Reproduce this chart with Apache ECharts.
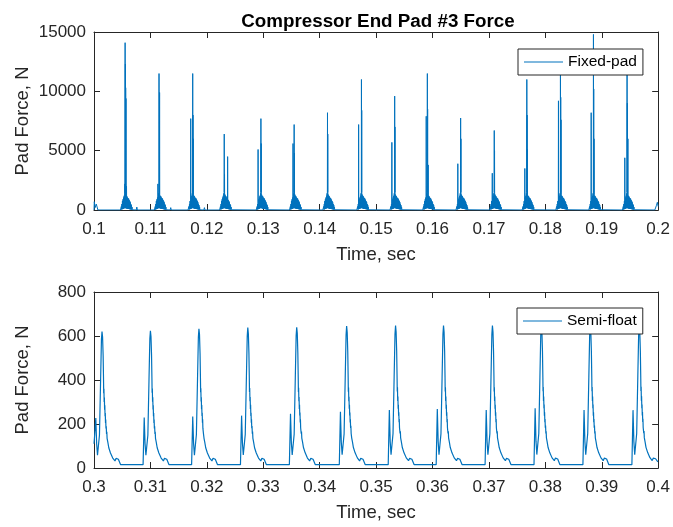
<!DOCTYPE html>
<html>
<head>
<meta charset="utf-8">
<script src="https://cdn.jsdelivr.net/npm/echarts@6/dist/echarts.min.js"></script>
<style>html,body{margin:0;padding:0;background:#fff;}#c{width:673px;height:527px;}</style>
</head>
<body>
<div id="c"></div>
<script>
// ---------------- DATA ----------------
const titleText = 'Compressor End Pad #3 Force';
const xName = 'Time, sec';
const yName = 'Pad Force, N';
const fixedName = 'Fixed-pad';
const semiName = 'Semi-float';

// axis ranges [min, max, tick step]
const fixedXRange = [0.1, 0.2, 0.01];
const fixedYRange = [0, 15000, 5000];
const semiXRange = [0.3, 0.4, 0.01];
const semiYRange = [0, 800, 200];

// Fixed-pad: time of each impact cluster
const fixedPeakTimes = [0.10549, 0.11150, 0.11747, 0.12306, 0.12956, 0.13545, 0.14136, 0.14738,
                        0.15327, 0.15906, 0.16496, 0.17092, 0.17669, 0.18265, 0.18850, 0.19446];
// dense low-level ringing seen under every impact (offset from impact time, force)
const fixedBaseOffsets = [-0.0008, -0.00075, -0.0007, -0.00065, -0.0006, -0.00055, -0.0005, -0.00045, -0.0004,
  -0.00035, -0.0003, -0.00025, -0.0002, -0.00015, -0.0001, -0.00005, 0, 0.00005, 0.0001, 0.00015, 0.0002,
  0.00025, 0.0003, 0.00035, 0.0004, 0.00045, 0.0005, 0.00055, 0.0006, 0.00065, 0.0007, 0.00075, 0.0008,
  0.00085, 0.0009, 0.00095, 0.001, 0.00105, 0.0011, 0.00115, 0.0012, 0.00125, 0.0013, 0.00135, 0.0014];
const fixedBaseForce = [0, 150, 20, 300, 40, 500, 60, 750, 80, 900, 100, 1050, 120, 1200, 150, 1400, 200,
  1500, 150, 1300, 150, 1200, 120, 1150, 100, 1050, 100, 1000, 90, 950, 80, 850, 70, 750, 60, 650, 50,
  500, 40, 400, 30, 250, 20, 120, 0];
// the tall spikes of each cluster: [offset from impact time, force]
const fixedSpikes = [
  [[-0.000025, 2200], [0.000025, 14100], [0.000075, 12300], [0.000125, 10300], [0.000175, 9400], [0.000275, 2000], [0.002, 0], [0.0021, 250], [0.0022, 0]],
  [[-0.000175, 2200], [0.000025, 11500], [0.000125, 9900], [0.002, 0], [0.0021, 200], [0.0022, 0]],
  [[-0.000325, 7700], [0.000025, 11500], [0.000075, 8000], [0.000125, 6000], [0.002, 0], [0.0021, 200], [0.0022, 0]],
  [[0.000025, 6400], [0.000075, 3000], [0.000625, 4500]],
  [[-0.000475, 5100], [0.000025, 7700], [0.000075, 5600]],
  [[-0.000175, 5600], [0.000025, 7200], [0.000075, 4800]],
  [[0.000025, 8200], [0.000075, 6400]],
  [[-0.000475, 7200], [0.000025, 11000], [0.000075, 8400]],
  [[-0.000475, 5700], [0.000025, 9600], [0.000075, 7000]],
  [[-0.000175, 7900], [0.000025, 11500], [0.000075, 8500], [0.000175, 3800]],
  [[-0.000475, 3900], [0.000025, 7750], [0.000075, 6000]],
  [[-0.000325, 3100], [0.000025, 6700], [0.000075, 5000]],
  [[-0.000325, 3500], [0.000025, 11000], [0.000075, 8000], [0.000125, 5100]],
  [[-0.000325, 9200], [0.000025, 12600], [0.000075, 9500], [0.000125, 7600]],
  [[-0.000375, 8200], [0.000025, 14800], [0.000075, 10200], [0.000125, 6000]],
  [[-0.000375, 4400], [0.000025, 12200], [0.000075, 9000], [0.000175, 6000]]
];
const fixedStart = [[0.1, 0], [0.10005, 700], [0.1002, 200], [0.1004, 500], [0.1007, 0]];
const fixedEnd = [[0.1994, 0], [0.1997, 400], [0.19985, 650], [0.2, 300]];

// Semi-float: time of each pulse peak and force samples around each
const semiPeakTimes = [0.30142, 0.31000, 0.31860, 0.32726, 0.33593, 0.34478,
                       0.35345, 0.36195, 0.37062, 0.37929, 0.38796, 0.39664];
const semiOffsets = [-0.0013, -0.0011, -0.00095, -0.0008, -0.00065, -0.00045, -0.00025, -0.0001,
  0, 0.0001, 0.0002, 0.00027, 0.0003, 0.00034, 0.00038, 0.00042, 0.00046, 0.0005, 0.00054, 0.00058,
  0.00062, 0.00066, 0.0007, 0.00075, 0.0008, 0.00085, 0.0009, 0.00096, 0.00103, 0.0011, 0.0012,
  0.0015, 0.0019, 0.0023, 0.0025, 0.0027, 0.0029, 0.0033];
const semiCycles = [
  [150, 227, 110, 58, 52, 150, 400, 585, 620, 595, 510, 400, 340, 360, 300, 320, 265, 285, 235, 250, 205, 220, 180, 190, 155, 165, 135, 142, 118, 110, 92, 68, 45, 32, 44, 36, 40, 15],
  [15, 229, 110, 58, 52, 150, 402, 588, 624, 598, 512, 402, 342, 361, 301, 321, 266, 285, 235, 250, 205, 220, 180, 190, 155, 165, 135, 142, 118, 110, 92, 68, 45, 32, 44, 36, 40, 15],
  [15, 234, 112, 58, 52, 152, 405, 595, 633, 606, 518, 405, 344, 363, 302, 322, 267, 286, 236, 251, 206, 221, 181, 190, 156, 165, 135, 142, 118, 110, 92, 68, 45, 32, 44, 36, 40, 15],
  [15, 238, 114, 59, 52, 153, 408, 600, 638, 610, 521, 407, 345, 364, 303, 323, 268, 287, 236, 251, 206, 221, 181, 191, 156, 166, 136, 143, 118, 111, 92, 68, 45, 32, 44, 36, 40, 15],
  [15, 247, 116, 59, 53, 154, 410, 602, 640, 612, 523, 408, 346, 365, 303, 323, 268, 287, 237, 252, 207, 222, 182, 191, 156, 166, 136, 143, 119, 111, 93, 69, 45, 32, 44, 36, 40, 15],
  [15, 256, 118, 60, 53, 155, 412, 606, 645, 616, 526, 410, 347, 366, 304, 324, 269, 288, 237, 252, 207, 222, 182, 192, 157, 166, 136, 143, 119, 111, 93, 69, 46, 32, 44, 36, 40, 15],
  [15, 264, 120, 60, 54, 156, 414, 608, 647, 618, 528, 411, 348, 367, 305, 325, 269, 288, 238, 253, 208, 223, 183, 192, 157, 167, 137, 144, 119, 112, 93, 69, 46, 33, 44, 37, 40, 15],
  [15, 268, 121, 60, 54, 156, 414, 608, 647, 618, 528, 411, 348, 367, 305, 325, 269, 288, 238, 253, 208, 223, 183, 192, 157, 167, 137, 144, 119, 112, 93, 69, 46, 33, 44, 37, 40, 15],
  [15, 264, 120, 60, 54, 156, 414, 608, 647, 618, 528, 411, 348, 367, 305, 325, 269, 288, 238, 253, 208, 223, 183, 192, 157, 167, 137, 144, 119, 112, 93, 69, 46, 33, 44, 37, 40, 15],
  [15, 271, 122, 61, 54, 157, 415, 609, 648, 619, 529, 412, 349, 368, 305, 325, 270, 289, 238, 253, 208, 223, 183, 193, 157, 167, 137, 144, 119, 112, 93, 69, 46, 33, 45, 37, 41, 15],
  [15, 264, 120, 60, 54, 157, 415, 609, 648, 619, 529, 412, 349, 368, 305, 325, 270, 289, 238, 253, 208, 223, 183, 193, 157, 167, 137, 144, 119, 112, 93, 69, 46, 33, 45, 37, 41, 15],
  [15, 263, 120, 60, 54, 157, 416, 610, 649, 620, 530, 413, 350, 369, 306, 326, 270, 289, 239, 254, 209, 224, 184, 193, 158, 168, 138, 145, 120, 113, 94, 70, 47, 34, 45, 38, 42, 28]
];
const semiStart = [[0.3, 110]];

// ---------------- BUILD ----------------
const fixedData = fixedStart.slice();
fixedPeakTimes.forEach((t, i) => {
  const pts = fixedBaseOffsets.map((o, j) => [o, fixedBaseForce[j]]).concat(fixedSpikes[i]);
  pts.sort((a, b) => a[0] - b[0]);
  pts.forEach(p => fixedData.push([+(t + p[0]).toFixed(7), p[1]]));
});
fixedEnd.forEach(p => fixedData.push(p));

const semiData = semiStart.slice();
semiPeakTimes.forEach((t, i) => {
  semiOffsets.forEach((o, j) => semiData.push([+(t + o).toFixed(7), semiCycles[i][j]]));
});

const AX = '#262626';
const FONT = 'Liberation Sans, Arial, Helvetica, sans-serif';
const LINE = '#0072BD';

function xAx(grid, r, main) {
  return {
    type: 'value', gridIndex: grid, min: r[0], max: r[1], interval: r[2],
    position: main ? 'bottom' : 'top',
    name: main ? xName : '', nameLocation: 'middle', nameGap: 35, nameMoveOverlap: false,
    nameTextStyle: { color: AX, fontSize: 18.5, fontFamily: FONT },
    axisLine: { show: true, onZero: false, lineStyle: { color: AX, width: 1 } },
    axisTick: { show: true, inside: true, length: 6, lineStyle: { color: AX } },
    axisLabel: { show: main, color: AX, fontSize: 17, fontFamily: FONT, margin: 11,
                 showMinLabel: true, showMaxLabel: true,
                 formatter: v => String(+v.toFixed(2)) },
    splitLine: { show: false }
  };
}
function yAx(grid, r, main) {
  return {
    type: 'value', gridIndex: grid, min: r[0], max: r[1], interval: r[2],
    position: main ? 'left' : 'right',
    name: main ? yName : '', nameLocation: 'middle', nameGap: 62, nameRotate: 90, nameMoveOverlap: false,
    nameTextStyle: { color: AX, fontSize: 18.5, fontFamily: FONT },
    axisLine: { show: true, onZero: false, lineStyle: { color: AX, width: 1 } },
    axisTick: { show: true, inside: true, length: 6, lineStyle: { color: AX } },
    axisLabel: { show: main, color: AX, fontSize: 17, fontFamily: FONT, margin: 8,
                 showMinLabel: true, showMaxLabel: true, formatter: v => String(v) },
    splitLine: { show: false }
  };
}
function legend(left, top, name) {
  return {
    left: left, top: top, orient: 'vertical', data: [name],
    icon: 'rect', itemWidth: 39, itemHeight: 1.2,
    padding: [5, 6, 5, 6], backgroundColor: '#fff',
    borderColor: AX, borderWidth: 1, borderRadius: 0,
    textStyle: { color: '#000', fontSize: 15.5, fontFamily: FONT },
    selectedMode: false
  };
}

const chart = echarts.init(document.getElementById('c'), null, { renderer: 'canvas' });
chart.setOption({
  animation: false,
  backgroundColor: '#fff',
  title: {
    text: titleText, left: 373, top: 7, textAlign: 'center',
    textStyle: { color: '#000', fontSize: 18.8, fontWeight: 'bold', fontFamily: FONT }
  },
  legend: [legend(518, 49, fixedName), legend(517, 308, semiName)],
  grid: [
    { left: 94, top: 32, width: 565, height: 178, containLabel: false },
    { left: 94, top: 292, width: 565, height: 176, containLabel: false }
  ],
  xAxis: [xAx(0, fixedXRange, true), xAx(0, fixedXRange, false), xAx(1, semiXRange, true), xAx(1, semiXRange, false)],
  yAxis: [yAx(0, fixedYRange, true), yAx(0, fixedYRange, false), yAx(1, semiYRange, true), yAx(1, semiYRange, false)],
  series: [
    { name: fixedName, type: 'line', xAxisIndex: 0, yAxisIndex: 0, data: fixedData,
      showSymbol: false, symbol: 'none', sampling: null, color: LINE,
      lineStyle: { color: LINE, width: 1 }, itemStyle: { color: LINE } },
    { name: semiName, type: 'line', xAxisIndex: 2, yAxisIndex: 2, data: semiData,
      showSymbol: false, symbol: 'none', sampling: null, color: LINE,
      lineStyle: { color: LINE, width: 1.2 }, itemStyle: { color: LINE } }
  ]
});
</script>
</body>
</html>
